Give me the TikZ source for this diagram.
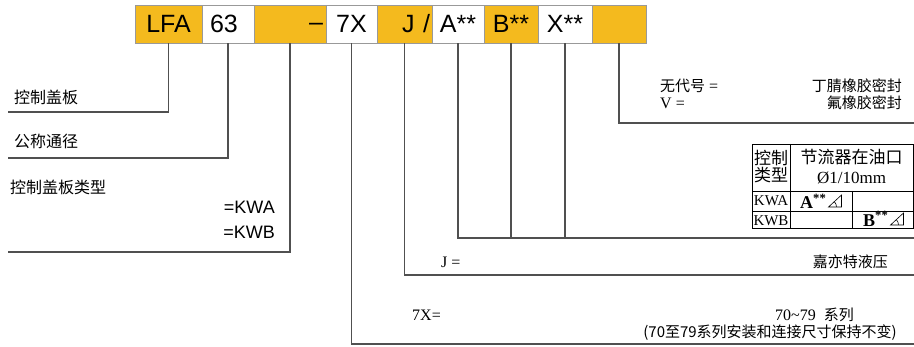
\documentclass[tikz,border=0pt]{standalone}
\usepackage{fontspec}
\setmainfont{Liberation Serif}
\newfontfamily\barfont{Liberation Sans}
\newfontfamily\cjk{Noto Sans CJK SC}
\usetikzlibrary{positioning}
\definecolor{barYellow}{RGB}{244,186,30}
\definecolor{lineGray}{RGB}{80,80,80}

\begin{document}
\begin{tikzpicture}[x=1pt, y=-1pt,
  seg/.style={draw=gray!80, minimum height=38, inner sep=0, text height=18, text depth=0,
    font=\barfont\fontsize{25}{28}\selectfont},
  yel/.style={seg, fill=barYellow},
  wht/.style={seg, fill=white},
  lead/.style={draw=lineGray, line width=1.1},
  lbl/.style={font=\cjk\fontsize{16}{18}\selectfont, anchor=west, inner sep=0},
  code/.style={font=\barfont\fontsize{18}{20}\selectfont, anchor=east, inner sep=0},
  note/.style={font=\fontsize{16}{18}\selectfont, anchor=west, inner sep=0},
  desc/.style={font=\cjk\fontsize{15}{17}\selectfont, anchor=east, inner sep=0},
  cell/.style={inner sep=0, font=\fontsize{15}{17}\selectfont},
]
  \useasboundingbox (0,0) rectangle (914,347);

  \node[yel, minimum width=67] (lfa) at (168.5,24) {LFA};
  \node[wht, minimum width=52] (dn) at (228,24) {63\hspace*{8pt}};
  \node[yel, minimum width=72, text width=66, align=right] (ser) at (290,24) {\raisebox{2pt}{–}};
  \node[wht, minimum width=51] (sx) at (351.5,24) {7X};
  \node[yel, minimum width=55, text width=51, align=right] (mk) at (404.5,24) {J /};
  \node[wht, minimum width=52] (ca) at (458,24) {A**};
  \node[yel, minimum width=54] (cb) at (511,24) {B**};
  \node[wht, minimum width=54] (sl) at (565,24) {X**};
  \node[yel, minimum width=54] (sv) at (619,24) {};

  \coordinate (lfaEnd) at (8,112);
  \coordinate (dnEnd) at (8,158);
  \coordinate (serEnd) at (8,252);
  \coordinate (sxEnd) at (914,344);
  \coordinate (mkEnd) at (914,275);
  \coordinate (caEnd) at (914,238);
  \coordinate (svEnd) at (914,123);
  \draw[lead] (lfa.south) |- (lfaEnd);
  \draw[lead] (dn.south) |- (dnEnd);
  \draw[lead] (ser.south) |- (serEnd);
  \draw[lead] (sx.south) |- (sxEnd);
  \draw[lead] (mk.south) |- (mkEnd);
  \draw[lead] (ca.south) |- (caEnd);
  \draw[lead] (cb.south) -- (cb.south |- caEnd);
  \draw[lead] (sl.south) -- (sl.south |- caEnd);
  \draw[lead] (sv.south) |- (svEnd);

  \node[lbl] (lbLfa) at (14,97) {控制盖板};
  \node[lbl] (lbDn) at (14,141) {公称通径};
  \node[lbl] (lbType) at (10,187) {控制盖板类型};
  \node[code] (kwa) at (275,207) {=KWA};
  \node[code] (kwb) at (275,232) {=KWB};

  \node[note] (nNone) at (660,86) {{\cjk\fontsize{15}{17}\selectfont 无代号} =};
  \node[desc] (sNbr) at (902,86) {丁腈橡胶密封};
  \node[note] (nV) at (660,103) {V =};
  \node[desc] (sFkm) at (902,103) {氟橡胶密封};

  \node[note] (nJ) at (441,262) {J =};
  \node[desc] (sJ) at (888,262) {嘉亦特液压};

  \node[note] (n7x) at (412,315) {7X=};
  \node[note] (s7x) at (775,315) {70\textasciitilde 79\hspace{8pt}{\cjk\fontsize{15}{17}\selectfont 系列}};
  \node[desc] (k7x) at (897,333) {(70至79系列安装和连接尺寸保持不变)};

  \draw[black, line width=0.8] (752,144) rectangle (913,228)
    (790,144) -- (790,228) (752,191) -- (913,191) (752,211) -- (913,211)
    (852,191) -- (852,228);
  \node[cell, font=\cjk\fontsize{17}{19}\selectfont, align=center] (tType) at (771,167) {控制\\[-2pt]类型};
  \node[cell, font=\cjk\fontsize{17}{19}\selectfont] (tHead) at (851.5,157) {节流器在油口};
  \node[cell, font=\fontsize{17}{19}\selectfont] (tDia) at (851.5,178) {Ø1/10mm};
  \node[cell, font=\fontsize{15}{17}\selectfont] (tKwa) at (771,201) {KWA};
  \node[cell, font=\fontsize{15}{17}\selectfont] (tKwb) at (771,221) {KWB};
  \node[cell, anchor=west, font=\fontsize{18}{20}\selectfont] (tA) at (800,201) {\textbf{A}\textsuperscript{\textbf{**}}};
  \node[cell, anchor=west, font=\fontsize{18}{20}\selectfont] (tB) at (863,219) {\textbf{B}\textsuperscript{\textbf{**}}};
  \draw[line width=0.6] ([xshift=2]tA.east) ++(0,6) -- ++(13,0) -- ++(0,-12) -- cycle
    ([xshift=2]tA.east) ++(0,6) ++(8,0) arc[start angle=0, end angle=-45, radius=8];
  \draw[line width=0.6] ([xshift=2]tB.east) ++(0,6) -- ++(13,0) -- ++(0,-12) -- cycle
    ([xshift=2]tB.east) ++(0,6) ++(8,0) arc[start angle=0, end angle=-45, radius=8];
\end{tikzpicture}
\end{document}
